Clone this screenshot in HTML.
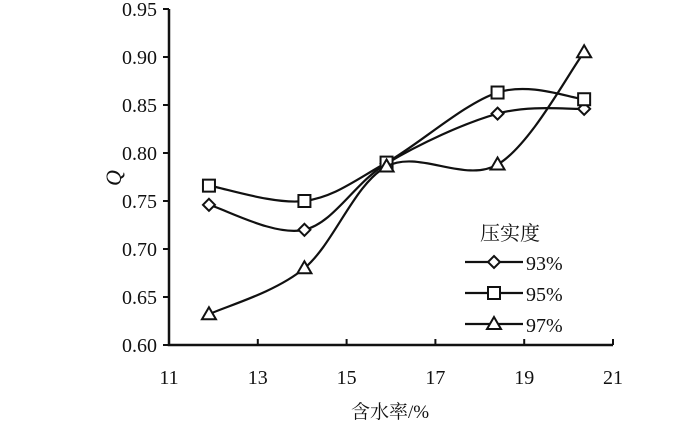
<!DOCTYPE html>
<html><head><meta charset="utf-8"><style>
body{margin:0;background:#fff;}
svg text{font-family:"Liberation Serif","Noto Serif CJK SC",serif;fill:#111;}
</style></head><body>
<svg width="700" height="427" viewBox="0 0 700 427">
<g id="axes"></g><g id="series"></g><g id="legend"></g>
</svg>
<script>
const xValues=[11.9,14.05,15.9,18.4,20.35];
const series93=[0.746,0.720,0.789,0.841,0.846];
const series95=[0.766,0.750,0.790,0.863,0.856];
const series97=[0.632,0.680,0.786,0.788,0.905];
const seriesNames=["93%","95%","97%"];
const xTicks=[11,13,15,17,19,21];
const yTicks=[0.60,0.65,0.70,0.75,0.80,0.85,0.90,0.95];
const NS="http://www.w3.org/2000/svg";
function sx(v){return 169+(v-11)*44.4;}
function sy(v){return 345-(v-0.6)*(336/0.35);}
function mk(tag,attrs,parent){const e=document.createElementNS(NS,tag);for(const k in attrs)e.setAttribute(k,attrs[k]);parent.appendChild(e);return e;}
const axes=document.getElementById('axes');
let a=mk('path',{d:`M169 ${sy(0.95)} V345 H${sx(21)}`,stroke:'#111','stroke-width':2.5,fill:'none'},axes);


yTicks.forEach(t=>{
 const l=mk('line',{x1:163,x2:169,y1:sy(t),y2:sy(t),stroke:'#111','stroke-width':2},axes);
 
 
 const tx=mk('text',{x:157,y:sy(t)+7,'text-anchor':'end','font-size':20},axes);
 tx.textContent=t.toFixed(2);
 
 
});
xTicks.forEach(t=>{
 const l=mk('line',{x1:sx(t),x2:sx(t),y1:339,y2:345,stroke:'#111','stroke-width':2},axes);
 
 
 const tx=mk('text',{x:sx(t),y:384,'text-anchor':'middle','font-size':20},axes);
 tx.textContent=t;
 
 
});
let xt=mk('text',{x:390,y:418,'text-anchor':'middle','font-size':19},axes);
xt.textContent='含水率/%';


let yt=mk('text',{x:0,y:0,'text-anchor':'middle','font-size':22,'font-style':'italic',transform:'translate(121,178) rotate(-90)'},axes);
yt.textContent='Q';


function smooth(pts){
 let d=`M${pts[0][0]} ${pts[0][1]}`;
 for(let i=0;i<pts.length-1;i++){
  const p0=pts[i-1]||pts[i],p1=pts[i],p2=pts[i+1],p3=pts[i+2]||p2;
  const t=1/6;
  d+=` C${p1[0]+(p2[0]-p0[0])*t} ${p1[1]+(p2[1]-p0[1])*t} ${p2[0]-(p3[0]-p1[0])*t} ${p2[1]-(p3[1]-p1[1])*t} ${p2[0]} ${p2[1]}`;
 }
 return d;
}
function marker(type,x,y,parent){
 let e;
 if(type==0)e=mk('polygon',{points:`${x},${y-6} ${x+6},${y} ${x},${y+6} ${x-6},${y}`},parent);
 else if(type==1)e=mk('rect',{x:x-6,y:y-6,width:12,height:12},parent);
 else e=mk('polygon',{points:`${x},${y-7} ${x+7},${y+5} ${x-7},${y+5}`},parent);
 e.setAttribute('fill','#fff');e.setAttribute('stroke','#111');e.setAttribute('stroke-width','2');
 return e;
}
const sg=document.getElementById('series');
[series93,series95,series97].forEach((s,k)=>{
 const pts=s.map((v,i)=>[sx(xValues[i]),sy(v)]);
 const p=mk('path',{d:smooth(pts),stroke:'#111','stroke-width':2.2,fill:'none'},sg);
 
 
 pts.forEach(q=>{
  const m=marker(k,q[0],q[1],sg);
  
  
 });
});
const lg=document.getElementById('legend');
let lt=mk('text',{x:480,y:240,'font-size':20},lg);
lt.textContent='压实度';


seriesNames.forEach((n,k)=>{
 const y=262+k*31;
 const g=mk('g',{},lg);
 
 
 mk('line',{x1:465,x2:523,y1:y,y2:y,stroke:'#111','stroke-width':2.2},g);
 marker(k,494,y,g);
 const t=mk('text',{x:526,y:y+8,'font-size':20},g);
 t.textContent=n;
});
</script>
</body></html>
